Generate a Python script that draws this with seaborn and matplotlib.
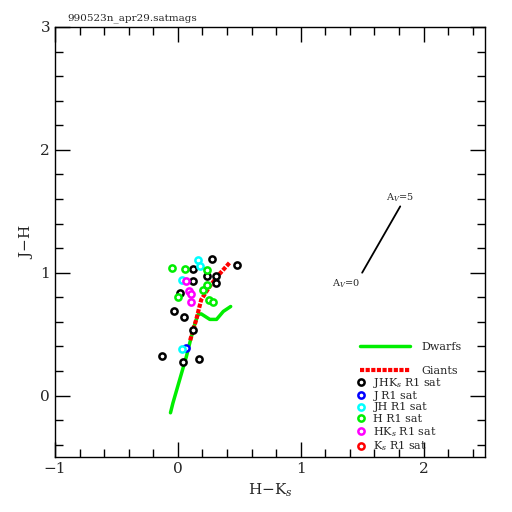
import pandas as pd
import seaborn as sns
import matplotlib.pyplot as plt
from matplotlib.lines import Line2D

# saturated stars
jhk_hk = [0.28, 0.48, 0.12, 0.24, 0.31, 0.125, 0.31, 0.02, -0.03, 0.05, 0.125, -0.13, 0.04, 0.17]
jhk_jh = [1.11, 1.065, 1.03, 0.975, 0.975, 0.935, 0.92, 0.835, 0.69, 0.64, 0.53, 0.325, 0.27, 0.30]
j_hk = [0.07]
j_jh = [0.39]
jh_hk = [0.165, 0.18, 0.03, 0.03]
jh_jh = [1.105, 1.055, 0.94, 0.38]
h_hk = [-0.05, 0.055, 0.235, 0.205, 0.235, 0.0, 0.25, 0.29]
h_jh = [1.04, 1.03, 1.025, 0.86, 0.90, 0.80, 0.78, 0.765]
hk_hk = [0.065, 0.09, 0.105, 0.105]
hk_jh = [0.93, 0.855, 0.83, 0.76]
k_hk = []
k_jh = []

# intrinsic loci
dwarf_hk = [-0.06, -0.04, 0.015, 0.07, 0.11, 0.14, 0.165, 0.19, 0.26, 0.315, 0.37, 0.43]
dwarf_jh = [-0.14, -0.06, 0.13, 0.32, 0.48, 0.59, 0.66, 0.665, 0.62, 0.62, 0.685, 0.725]
giant_hk = [0.10, 0.15, 0.19, 0.26, 0.33, 0.42]
giant_jh = [0.45, 0.62, 0.78, 0.89, 0.98, 1.08]

# reddening vector A_V = 0 .. 5
redd_hk = [1.50, 1.81]
redd_jh = [1.00, 1.54]

groups = [
    ("JHK$_s$ R1 sat", jhk_hk, jhk_jh, "black"),
    ("J R1 sat", j_hk, j_jh, "blue"),
    ("JH R1 sat", jh_hk, jh_jh, "cyan"),
    ("H R1 sat", h_hk, h_jh, "#00ee00"),
    ("HK$_s$ R1 sat", hk_hk, hk_jh, "magenta"),
    ("K$_s$ R1 sat", k_hk, k_jh, "red"),
]
giant_dash = (0, (1.0, 0.35))

sns.set_style("white")
plt.rcParams["font.family"] = ["DejaVu Serif"]
plt.rcParams["mathtext.fontset"] = "dejavuserif"

fig = plt.figure(figsize=(5.12, 5.12), dpi=100)
ax = fig.add_axes([55 / 512, 55 / 512, 430 / 512, 430 / 512])

sns.lineplot(x=dwarf_hk, y=dwarf_jh, sort=False, color="#00ee00", lw=2.5, ax=ax)
sns.lineplot(x=giant_hk, y=giant_jh, sort=False, color="red", lw=3,
             linestyle=giant_dash, ax=ax)
sns.lineplot(x=redd_hk, y=redd_jh, sort=False, color="black", lw=1.3, ax=ax)

for name, xs, ys, col in groups:
    if xs:
        df = pd.DataFrame({"hk": xs, "jh": ys})
        sns.scatterplot(df, x="hk", y="jh", color="white", edgecolor=col,
                        linewidth=1.8, s=20, ax=ax, zorder=3)

ax.text(1.48, 0.86, "A$_V$=0", ha="right", va="bottom", fontsize=7)
ax.text(1.81, 1.56, "A$_V$=5", ha="center", va="bottom", fontsize=7)

ax.set_xlim(-1, 2.5)
ax.set_ylim(-0.5, 3)
ax.set_xticks([-1, 0, 1, 2])
ax.set_yticks([0, 1, 2, 3])
ax.set_xticks([i / 5 for i in range(-5, 13)], minor=True)
ax.set_yticks([i / 5 for i in range(-2, 15)], minor=True)
ax.tick_params(which="both", direction="in", top=True, right=True,
               bottom=True, left=True, labelsize=11, color="black")
ax.tick_params(which="major", length=11, width=1)
ax.tick_params(which="minor", length=6, width=1)
for sp in ax.spines.values():
    sp.set_color("black")
    sp.set_linewidth(1)
ax.set_xlabel("H$-$K$_s$", fontsize=11)
ax.set_ylabel("J$-$H", fontsize=11)
fig.text(67 / 512, 1 - 18 / 512, "990523n_apr29.satmags", fontsize=7.5,
         ha="left", va="center")

line_handles = [
    Line2D([], [], color="#00ee00", lw=2.5),
    Line2D([], [], color="red", lw=3, linestyle=giant_dash),
]
leg1 = ax.legend(line_handles, ["Dwarfs", "Giants"], loc="lower left",
                 bbox_to_anchor=(0.70, 0.179), frameon=False, fontsize=8,
                 handlelength=4.5, labelspacing=1.2, handletextpad=1.0,
                 borderaxespad=0)
ax.add_artist(leg1)
pt_handles = [Line2D([], [], marker="o", ls="", markerfacecolor="white",
                     markeredgecolor=c, markeredgewidth=1.8, markersize=4.5)
              for _, _, _, c in groups]
ax.legend(pt_handles, [g[0] for g in groups], loc="lower left",
          bbox_to_anchor=(0.689, -0.002), frameon=False, fontsize=8,
          handlelength=1, labelspacing=0.1, handletextpad=0.6, borderaxespad=0)

fig.savefig("out.png", dpi=100)
